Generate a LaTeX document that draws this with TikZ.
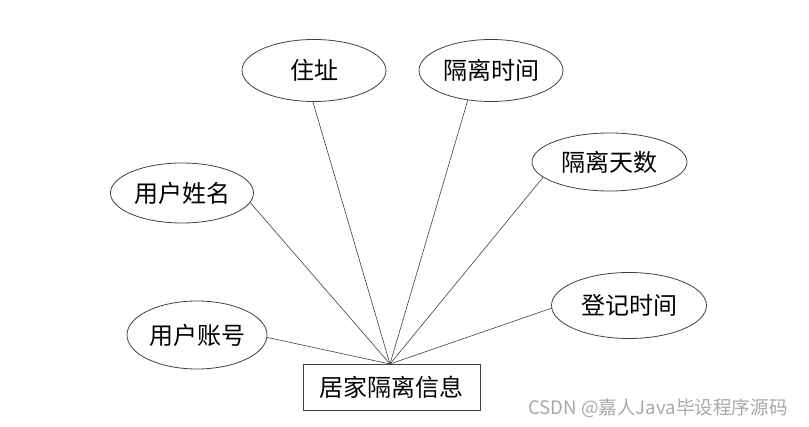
\documentclass[tikz,border=0pt]{standalone}
\usepackage{fontspec}
\setmainfont{Liberation Serif}
\newfontfamily\cjk{Noto Sans CJK SC}
\usetikzlibrary{shapes.geometric}
\definecolor{edgegray}{HTML}{404040}
\definecolor{wmgray}{HTML}{A8A8A8}
\tikzset{
  attr/.style={ellipse, draw=edgegray, line width=0.8pt, inner sep=0pt, font=\cjk\fontsize{24}{28}\selectfont},
  entity/.style={rectangle, draw=edgegray, line width=0.9pt, inner sep=0pt, minimum width=177pt, minimum height=46pt, font=\cjk\fontsize{24}{28}\selectfont},
  link/.style={draw=edgegray, line width=0.6pt},
  wm/.style={text=wmgray, font=\cjk\fontsize{18.6}{21}\selectfont, inner sep=0pt}
}
\begin{document}
\begin{tikzpicture}[x=1pt,y=-1pt]
\useasboundingbox (0,0) rectangle (809,427);
\node[attr, minimum width=144pt, minimum height=62pt] (zz) at (314,70.5) {住址};
\node[attr, minimum width=144pt, minimum height=62pt] (glsj) at (491,70.5) {隔离时间};
\node[attr, minimum width=155pt, minimum height=58pt] (glts) at (609.5,162) {隔离天数};
\node[attr, minimum width=143pt, minimum height=60pt] (yhxm) at (182,193) {用户姓名};
\node[attr, minimum width=140pt, minimum height=68pt] (yhzh) at (197,335) {用户账号};
\node[attr, minimum width=155pt, minimum height=66pt] (djsj) at (629,305.5) {登记时间};
\node[entity] (box) at (391.5,387) {居家隔离信息};
\coordinate (hub) at (390,364);
\draw[link] (zz.-92) -- (hub);
\draw[link] (glsj.-128) -- (hub);
\draw[link] (glts.193) -- (hub);
\draw[link] (yhxm.-8) -- (hub);
\draw[link] (yhzh.-2.4) -- (hub);
\draw[link] (djsj.182) -- (hub);
\node[wm] (mark) at (658,408) {CSDN @嘉人Java毕设程序源码};
\end{tikzpicture}
\end{document}
